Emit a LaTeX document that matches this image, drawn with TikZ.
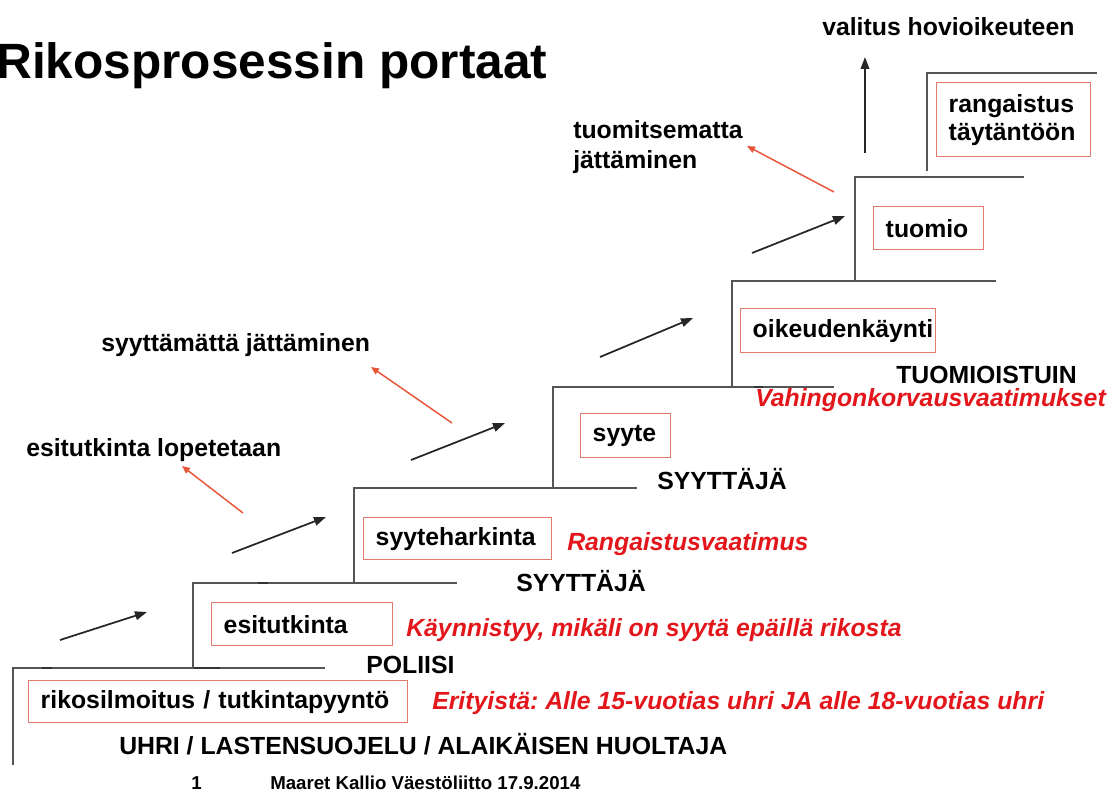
\documentclass[tikz,border=0pt]{standalone}
\usepackage{fontspec}
\setmainfont{Liberation Sans}
\usetikzlibrary{arrows.meta}
\definecolor{stepgray}{HTML}{555555}
\definecolor{tickgray}{HTML}{333333}
\definecolor{textred}{HTML}{E3161B}
\definecolor{boxred}{HTML}{E07A6E}
\definecolor{arrowred}{HTML}{E8563A}
\frenchspacing
\begin{document}
\begin{tikzpicture}[x=0.75pt,y=-0.75pt,
  stepline/.style={draw=stepgray, line width=1.5pt},
  tick/.style={draw=tickgray, line width=2.2pt},
  lbl/.style={anchor=base west, inner sep=0pt, font=\bfseries\fontsize{18.6}{22}\selectfont},
  redlbl/.style={anchor=base west, inner sep=0pt, text=textred, font=\bfseries\itshape\fontsize{18.6}{22}\selectfont},
  stagebox/.style={draw=boxred, line width=1.1pt, anchor=north west, align=left, inner xsep=9pt, inner ysep=0pt, font=\bfseries\fontsize{18.6}{21}\selectfont},
  goarrow/.style={-{Triangle[length=9pt,width=6.5pt]}, line width=1.3pt, draw=black!85},
  quitarrow/.style={-{Triangle[length=6pt,width=5pt]}, line width=1.1pt, draw=arrowred}]
\useasboundingbox (0,0) rectangle (1111,792);
\fill[white] (0,0) rectangle (1111,792);

% stairs
\draw[stepline] (13,765) -- (13,668) -- (325,668);
\draw[stepline] (193,668) -- (193,583) -- (457,583);
\draw[stepline] (354,583) -- (354,488) -- (637,488);
\draw[stepline] (553,488) -- (553,387) -- (834,387);
\draw[stepline] (732,387) -- (732,281) -- (996,281);
\draw[stepline] (855,281) -- (855,177) -- (1024,177);
\draw[stepline] (927,171) -- (927,73) -- (1097,73);
% small dark marks on the stairs
\draw[tick] (42,668) -- (52,668);
\draw[tick] (194,668) -- (220,668);
\draw[tick] (258,583) -- (268,583);
\draw[tick] (754,387) -- (763,387);

% title
\node[anchor=base west, inner sep=0pt, font=\bfseries\fontsize{37.2}{44}\selectfont] (title) at (-4,79) {Rikosprosessin portaat};

% stage boxes
\node[stagebox, text width=266.25pt, minimum height=31.5pt] (ilmoitus) at (28,680) {rikosilmoitus / tutkintapyyntö};
\node[stagebox, text width=117.75pt, minimum height=32.25pt] (esitutkinta) at (211,602) {esitutkinta};
\node[stagebox, text width=123pt, minimum height=31.5pt] (harkinta) at (363,517) {syyteharkinta};
\node[stagebox, text width=49.5pt, minimum height=33pt] (syyte) at (580,413) {syyte};
\node[stagebox, text width=128.25pt, minimum height=33pt] (oikeus) at (740,308) {oikeudenkäynti};
\node[stagebox, text width=64.5pt, minimum height=32.25pt] (tuomio) at (873,206) {tuomio};
\node[stagebox, text width=97.5pt, minimum height=55.5pt] (rangaistus) at (936,82) {rangaistus\\täytäntöön};

% actor labels
\node[lbl] (uhri) at (119,754) {UHRI / LASTENSUOJELU / ALAIKÄISEN HUOLTAJA};
\node[lbl] (poliisi) at (366,673) {POLIISI};
\node[lbl] (syyttaja1) at (516,591) {SYYTTÄJÄ};
\node[lbl] (syyttaja2) at (657,489) {SYYTTÄJÄ};
\node[lbl] (tuomioistuin) at (896,383) {TUOMIOISTUIN};

% red notes
\node[redlbl] (erityista) at (432,709) {Erityistä: Alle 15-vuotias uhri JA alle 18-vuotias uhri};
\node[redlbl] (kaynnistyy) at (406,636) {Käynnistyy, mikäli on syytä epäillä rikosta};
\node[redlbl] (rangvaat) at (567,550) {Rangaistusvaatimus};
\node[redlbl] (vahingon) at (755,406) {Vahingonkorvausvaatimukset};

% exit labels
\node[lbl] (lopetetaan) at (26,456) {esitutkinta lopetetaan};
\node[lbl] (syyttamatta) at (101,351) {syyttämättä jättäminen};
\node[lbl, align=left, anchor=north west, font=\bfseries\fontsize{18.6}{22.5}\selectfont] (tuomitsematta) at (573,120) {tuomitsematta\\jättäminen};
\node[lbl] (valitus) at (822,36) {valitus hovioikeuteen};

% footer
\node[anchor=base west, inner sep=0pt, font=\bfseries\fontsize{14}{16}\selectfont] (sivu) at (191,789) {1};
\node[anchor=base west, inner sep=0pt, font=\bfseries\fontsize{14}{16}\selectfont] (tekija) at (270,789) {Maaret Kallio Väestöliitto 17.9.2014};

% forward arrows
\coordinate (a1s) at (60,640);  \coordinate (a1e) at (147,612);
\coordinate (a2s) at (232,553); \coordinate (a2e) at (326,517);
\coordinate (a3s) at (411,460); \coordinate (a3e) at (505,423);
\coordinate (a4s) at (600,357); \coordinate (a4e) at (693,318);
\coordinate (a5s) at (752,253); \coordinate (a5e) at (845,216);
\coordinate (a6s) at (865,153); \coordinate (a6e) at (865,57);
\draw[goarrow] (a1s) -- (a1e);
\draw[goarrow] (a2s) -- (a2e);
\draw[goarrow] (a3s) -- (a3e);
\draw[goarrow] (a4s) -- (a4e);
\draw[goarrow] (a5s) -- (a5e);
\draw[goarrow] (a6s) -- (a6e);

% exit arrows
\coordinate (r1s) at (243,513); \coordinate (r1e) at (182,466);
\coordinate (r2s) at (452,423); \coordinate (r2e) at (371,367);
\coordinate (r3s) at (834,192); \coordinate (r3e) at (747,146);
\draw[quitarrow] (r1s) -- (r1e);
\draw[quitarrow] (r2s) -- (r2e);
\draw[quitarrow] (r3s) -- (r3e);
\end{tikzpicture}
\end{document}
